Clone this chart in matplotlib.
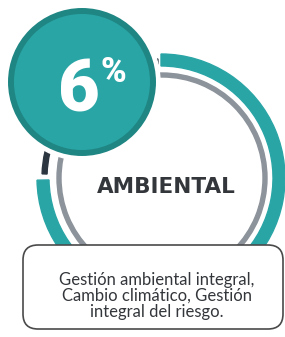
import matplotlib
matplotlib.use("Agg")
import matplotlib.pyplot as plt
from matplotlib.patches import Wedge, Circle, FancyBboxPatch

# values
pct_value = 6
category = "AMBIENTAL"
description = ["Gestión ambiental integral,", "Cambio climático, Gestión", "integral del riesgo."]
# ring arcs, degrees clockwise from the top
ring_names = ["main", "rest"]
ring_start = [0, 272]
ring_end = [269, 358.5]

TEAL = "#2aa5a6"
TEAL_DARK = "#1f8683"
DARK = "#2c3641"
GRAY = "#8d939b"
TEXT = "#33363a"

W, H = 285, 337
fig = plt.figure(figsize=(W / 100, H / 100), dpi=100)
ax = fig.add_axes([0, 0, 1, 1])
ax.set_xlim(0, W)
ax.set_ylim(H, 0)
ax.axis("off")


def cw(a):
    # y axis is flipped, so data angle = clockwise angle - 90
    return a - 90


# inner gray ring
ax.add_patch(Wedge((162, 178), 105, 0, 360, width=4, color=GRAY, zorder=1))

# outer ring: teal arc + thin dark arc
ax.add_patch(Wedge((161, 178), 124, cw(ring_start[0]), cw(ring_end[0]),
                   width=12, color=TEAL, zorder=2))
ax.add_patch(Wedge((161, 178), 119, cw(ring_start[1]), cw(ring_end[1]),
                   width=5, color=DARK, zorder=2))

# percentage bubble
ax.add_patch(Circle((82, 82), 78, color="white", zorder=3))
ax.add_patch(Circle((82, 82), 71, facecolor=TEAL, edgecolor=TEAL_DARK,
                    linewidth=4.3, zorder=4))
ax.text(100, 112, str(pct_value), color="white", fontsize=52, family="Roboto",
        fontweight="black", ha="right", va="baseline", zorder=5)
ax.text(101, 82, "%", color="white", fontsize=25, family="Roboto",
        fontweight="black", ha="left", va="baseline", zorder=5)

ax.text(166, 193, category, color=TEXT, fontsize=15.5, family="DejaVu Sans",
        fontweight="bold", ha="center", va="baseline", zorder=5)

# description box
ax.add_patch(FancyBboxPatch((23, 245), 260, 84,
                            boxstyle="round,pad=0,rounding_size=15",
                            facecolor="white", edgecolor="#4a4a4a",
                            linewidth=1.2, zorder=6))
for i, line in enumerate(description):
    ax.text(157, 285 + i * 16, line, color=TEXT, fontsize=12, family="Lato",
            ha="center", va="baseline", zorder=7)

fig.savefig("out.png", dpi=100, facecolor="white")
